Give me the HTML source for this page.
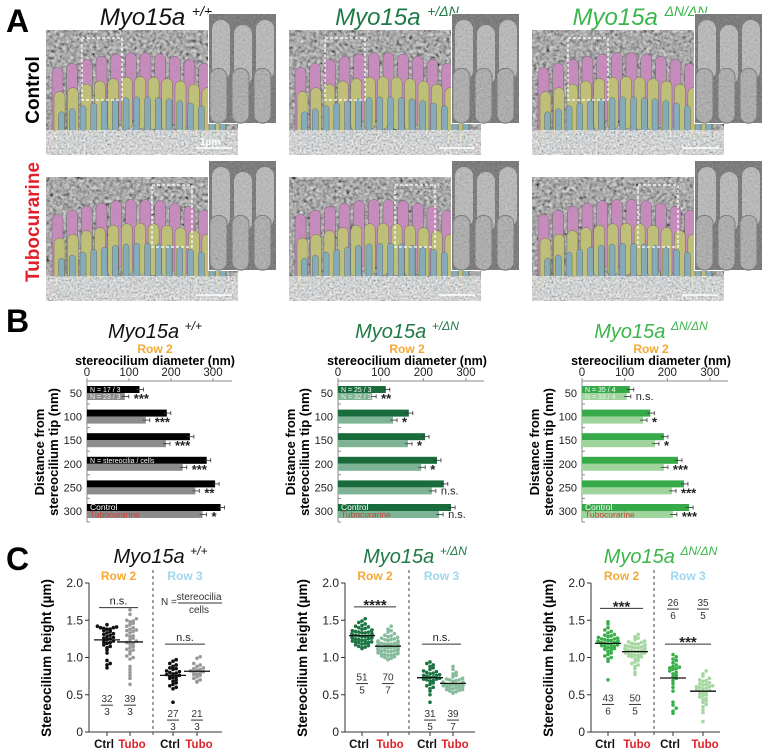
<!DOCTYPE html>
<html><head><meta charset="utf-8">
<style>
html,body{margin:0;padding:0;background:#fff;}
svg{display:block;font-family:"Liberation Sans",Arial,sans-serif;}
</style></head>
<body>
<svg id="fig" width="767" height="751" viewBox="0 0 767 751" xmlns="http://www.w3.org/2000/svg">
<defs>
<filter id="noise" x="0" y="0" width="100%" height="100%">
<feTurbulence type="fractalNoise" baseFrequency="0.3" numOctaves="3" seed="4"/>
<feColorMatrix type="matrix" values="0.6 0.6 0.6 0 -0.45  0.6 0.6 0.6 0 -0.45  0.6 0.6 0.6 0 -0.45  0 0 0 0 1"/>
</filter>
<filter id="noise2" x="0" y="0" width="100%" height="100%">
<feTurbulence type="fractalNoise" baseFrequency="0.5" numOctaves="2" seed="9"/>
<feColorMatrix type="matrix" values="0.6 0.6 0.6 0 -0.2  0.6 0.6 0.6 0 -0.2  0.6 0.6 0.6 0 -0.2  0 0 0 0 1"/>
</filter>
</defs>
<g id="panelA"></g>
<g id="panelB"></g>
<g id="panelC"></g>
</svg>
<script>
// ---- Panel B data (stereocilium diameter, nm) ----
const bDist = [50,100,150,200,250,300];
const bCtrl1 = [125,190,245,285,305,318];
const bTubo1 = [90,140,188,228,258,275];
const bSig1 = ['***','***','***','***','**','*'];
const bCtrl2 = [112,166,204,232,248,265];
const bTubo2 = [80,129,164,195,220,237];
const bSig2 = ['**','*','*','*','n.s.','n.s.'];
const bCtrl3 = [112,160,192,225,239,251];
const bTubo3 = [105,143,171,192,211,213];
const bSig3 = ['n.s.','*','*','***','***','***'];
const bTicks = [0,100,200,300];
const bN1 = ['N = 17 / 3','N = 23 / 3'];
const bN2 = ['N = 25 / 3','N = 32 / 3'];
const bN3 = ['N = 35 / 4','N = 33 / 4'];

// ---- Panel C data (stereocilium height, µm) ----
const cTicks = [0,0.5,1.0,1.5,2.0];
const c1R2Ctrl = [1.44,1.42,1.41,1.40,1.40,1.39,1.38,1.38,1.36,1.35,1.33,1.31,1.30,1.28,1.27,1.26,1.25,1.24,1.22,1.21,1.20,1.19,1.17,1.15,1.13,1.10,1.06,0.96,0.92,0.90,0.86,1.32];
const c1R2Tubo = [1.64,1.58,1.52,1.50,1.49,1.48,1.46,1.44,1.42,1.40,1.38,1.36,1.35,1.33,1.30,1.28,1.26,1.24,1.22,1.20,1.18,1.15,1.13,1.10,1.08,1.05,1.02,0.98,0.88,0.84,0.80,0.76,0.72,0.64,1.37,1.29,1.19,1.11,1.00];
const c1R3Ctrl = [0.97,0.95,0.92,0.90,0.88,0.86,0.84,0.82,0.80,0.79,0.78,0.77,0.76,0.75,0.73,0.72,0.70,0.68,0.66,0.64,0.62,0.60,0.58,0.40,0.85,0.81,0.74];
const c1R3Tubo = [1.01,0.99,0.92,0.90,0.88,0.86,0.85,0.84,0.82,0.80,0.79,0.78,0.77,0.76,0.74,0.72,0.70,0.68,0.67,0.83,0.81];
const c2R2Ctrl = [1.52,1.49,1.47,1.45,1.43,1.42,1.41,1.40,1.39,1.38,1.37,1.36,1.35,1.34,1.34,1.33,1.32,1.32,1.31,1.31,1.30,1.30,1.29,1.29,1.28,1.28,1.27,1.27,1.26,1.25,1.25,1.24,1.23,1.23,1.22,1.21,1.20,1.20,1.19,1.18,1.17,1.16,1.15,1.14,1.13,1.12,1.33,1.30,1.26,1.36,1.21];
const c2R2Tubo = [1.42,1.38,1.36,1.34,1.32,1.30,1.29,1.28,1.27,1.26,1.25,1.24,1.23,1.22,1.21,1.20,1.19,1.19,1.18,1.18,1.17,1.17,1.16,1.16,1.15,1.15,1.14,1.14,1.13,1.13,1.12,1.12,1.11,1.11,1.10,1.10,1.09,1.09,1.08,1.07,1.06,1.05,1.04,1.03,1.02,1.01,1.00,0.99,0.98,0.97,1.22,1.18,1.14,1.10,1.06,1.20,1.16,1.12,1.08,1.04,1.24,1.15,1.13,1.11,1.09,1.17,1.21,1.05,1.03,1.19];
const c2R3Ctrl = [0.94,0.92,0.90,0.88,0.86,0.84,0.82,0.80,0.79,0.78,0.77,0.76,0.75,0.74,0.73,0.72,0.71,0.70,0.69,0.68,0.66,0.64,0.62,0.60,0.58,0.55,0.50,0.40,0.81,0.76,0.71];
const c2R3Tubo = [0.88,0.84,0.80,0.78,0.76,0.74,0.72,0.71,0.70,0.69,0.68,0.67,0.66,0.66,0.65,0.65,0.64,0.64,0.63,0.63,0.62,0.62,0.61,0.60,0.59,0.58,0.57,0.56,0.55,0.54,0.53,0.52,0.70,0.67,0.65,0.63,0.61,0.59,0.57];
const c3R2Ctrl = [1.48,1.45,1.40,1.37,1.35,1.33,1.31,1.30,1.29,1.28,1.27,1.26,1.25,1.24,1.23,1.22,1.22,1.21,1.20,1.20,1.19,1.18,1.17,1.16,1.15,1.14,1.13,1.12,1.11,1.10,1.08,1.06,1.04,1.02,1.00,0.98,0.95,0.70,1.25,1.21,1.18,1.15,1.23];
const c3R2Tubo = [1.31,1.28,1.26,1.24,1.22,1.21,1.20,1.19,1.18,1.17,1.16,1.15,1.14,1.13,1.12,1.11,1.10,1.10,1.09,1.08,1.07,1.06,1.05,1.04,1.03,1.02,1.01,1.00,0.98,0.96,0.94,0.92,0.90,0.88,0.85,0.80,0.77,1.18,1.14,1.12,1.09,1.07,1.05,1.03,1.16,1.11,1.08,1.06,1.13,1.01];
const c3R3Ctrl = [1.04,1.01,0.98,0.96,0.93,0.90,0.88,0.87,0.85,0.84,0.82,0.80,0.78,0.76,0.74,0.72,0.69,0.65,0.60,0.55,0.40,0.36,0.32,0.28,0.25,0.86];
const c3R3Tubo = [0.82,0.78,0.75,0.72,0.70,0.68,0.66,0.64,0.62,0.61,0.60,0.59,0.58,0.56,0.55,0.53,0.51,0.49,0.47,0.45,0.42,0.40,0.37,0.34,0.30,0.26,0.14,0.65,0.63,0.57,0.54,0.50,0.44,0.69,0.61];

const NS='http://www.w3.org/2000/svg';
function mk(parent, tag, attrs, text){
  const e=document.createElementNS(NS,tag);
  for(const k in attrs) e.setAttribute(k,attrs[k]);
  if(text!==undefined) e.textContent=text;
  parent.appendChild(e); return e;
}
function mean(a){return a.reduce((s,v)=>s+v,0)/a.length;}

// ---------------- Panel A ----------------
const A=document.getElementById('panelA');
let t=mk(A,'text',{x:6,y:32,'font-size':32,'font-weight':'bold'},'A');


const gTitles=[['+/+','#111'],['+/ΔN','#1e7a46'],['ΔN/ΔN','#3cb54a']];
const titleX=[156,397,640];
const rowLabels=[['Control','#000',90],['Tubocurarine','#e0202a',222]];
rowLabels.forEach(r=>{
  const e=mk(A,'text',{x:0,y:0,'font-size':19,'font-weight':'bold',fill:r[1],'text-anchor':'middle',transform:`translate(39,${r[2]}) rotate(-90)`},r[0]);
  
  
});
function sem(g,x,y,w,h){
  mk(g,'rect',{x:x,y:y,width:w,height:h,fill:'#6a6a6a'});
  mk(g,'rect',{x:x,y:y,width:w,height:h,filter:'url(#noise)',opacity:0.85});
  const rows=[['#c78bbd',0.18,0.55,12],['#bfc276',0.38,0.42,13],['#83abbd',0.55,0.34,16]];
  rows.forEach((r,ri)=>{
    const n=r[3];
    for(let i=0;i<n;i++){
      const f=i/(n-1);
      const cx=x+w*(0.06+0.84*f)+ri*2;
      const arc=Math.sin(f*Math.PI);
      const top=y+h*(r[1]+0.12*(1-arc))-ri;
      const bw=ri===2?6:11;
      mk(g,'rect',{x:cx-bw/2,y:top,width:bw,height:h*r[2],rx:bw/2,fill:r[0],opacity:0.95,stroke:'#555','stroke-width':0.4});
    }
  });
  mk(g,'rect',{x:x,y:y+h*0.8,width:w,height:h*0.2,fill:'#aaa',filter:'url(#noise2)',opacity:0.85});
}
function inset(g,x,y,w,h){
  mk(g,'rect',{x:x-1,y:y-1,width:w+2,height:h+2,fill:'#fff'});
  mk(g,'rect',{x:x,y:y,width:w,height:h,fill:'#555'});
  for(let i=0;i<3;i++){
    mk(g,'rect',{x:x+3+i*22,y:y+6+(i%2)*5,width:18,height:h*0.55,rx:9,fill:'#aaa'});
    mk(g,'rect',{x:x+1+i*22,y:y+h*0.5,width:17,height:h*0.5,rx:8,fill:'#9a9a9a',stroke:'#555'});
  }
  mk(g,'rect',{x:x,y:y,width:w,height:h,filter:'url(#noise2)',opacity:0.3});
}
for(let c=0;c<3;c++){
  const ox=c*243;
  const gt=mk(A,'text',{x:titleX[c],y:25,'font-size':24,'font-style':'italic','text-anchor':'middle',fill:gTitles[c][1]});
  
  
  mk(gt,'tspan',{},'Myo15a ');
  mk(gt,'tspan',{'font-size':14,dy:-9},gTitles[c][0]);
  for(let r=0;r<2;r++){
    const g=mk(A,'g',{});
    
    
    const y0=r===0?30:177;
    sem(g,46+ox,y0,192,r===0?125:124);
    mk(g,'rect',{x:82+ox+(r?70:0),y:y0+8,width:40,height:62,fill:'none',stroke:'#fff','stroke-width':1.3,'stroke-dasharray':'3,2'});
    mk(g,'line',{x1:196+ox,y1:y0+118,x2:232+ox,y2:y0+118,stroke:'#fff','stroke-width':1.5});
    inset(g,209+ox,r===0?14:161,67,109);
  }
}
t=mk(A,'text',{x:200,y:145,'font-size':10,'font-weight':'bold',fill:'#fff'},'1µm');



// ---------------- Panel B ----------------
const B=document.getElementById('panelB');
t=mk(B,'text',{x:6,y:332,'font-size':32,'font-weight':'bold'},'B');


const bPanels=[
 {x0:87,x300:213,end:232,ctrl:bCtrl1,tubo:bTubo1,sig:bSig1,cC:'#000',cT:'#8c8c8c',n:bN1,tt:gTitles[0],showNote:true},
 {x0:338,x300:466,end:484,ctrl:bCtrl2,tubo:bTubo2,sig:bSig2,cC:'#1a6b3c',cT:'#7fb395',n:bN2,tt:gTitles[1]},
 {x0:582,x300:710,end:728,ctrl:bCtrl3,tubo:bTubo3,sig:bSig3,cC:'#36a948',cT:'#9fd59c',n:bN3,tt:gTitles[2]}
];
const byTop=393, byStep=23.6;
bPanels.forEach((p,pi)=>{
  const g=mk(B,'g',{});
  
  
  const sx=v=>p.x0+(v/300)*(p.x300-p.x0);
  const sy=d=>byTop+(bDist.indexOf(d))*byStep;
  const cx=(p.x0+p.x300)/2+5;
  const tt=mk(g,'text',{x:cx,y:338,'font-size':20,'font-style':'italic','text-anchor':'middle',fill:p.tt[1]});
  
  
  mk(tt,'tspan',{},'Myo15a ');
  mk(tt,'tspan',{'font-size':12,dy:-8},p.tt[0]);
  mk(g,'text',{x:cx,y:353,'font-size':12,'font-weight':'bold',fill:'#f5a833','text-anchor':'middle'},'Row 2');
  const xt=mk(g,'text',{x:cx,y:365,'font-size':12.5,'font-weight':'bold','text-anchor':'middle'},'stereocilium diameter (nm)');
  
  
  mk(g,'line',{x1:p.x0,y1:381,x2:p.end,y2:381,stroke:'#888','stroke-width':1});
  bTicks.forEach(v=>{
    mk(g,'line',{x1:sx(v),y1:381,x2:sx(v),y2:378,stroke:'#888'});
    const tl=mk(g,'text',{x:sx(v),y:376,'font-size':11.5,'text-anchor':'middle',fill:'#222'},v);
    
    
  });
  mk(g,'line',{x1:p.x0,y1:381,x2:p.x0,y2:522,stroke:'#888'});
  const yt=mk(g,'text',{x:0,y:0,'font-size':13,'font-weight':'bold','text-anchor':'middle',transform:`translate(${p.x0-43},452) rotate(-90)`});
  
  
  mk(yt,'tspan',{x:0,dy:0},'Distance from');
  mk(yt,'tspan',{x:0,dy:14},'stereocilium tip (nm)');
  bDist.forEach((d,i)=>{
    const y=sy(d);
    const tl=mk(g,'text',{x:p.x0-5,y:y+4,'font-size':11,'text-anchor':'end',fill:'#222'},d);
    
    
    mk(g,'line',{x1:p.x0,y1:y+11,x2:p.x0+3,y2:y+11,stroke:'#888'});
    const bc=mk(g,'rect',{x:p.x0,y:y-7,width:sx(p.ctrl[i])-p.x0,height:7,fill:p.cC});
    
    
    const bt=mk(g,'rect',{x:p.x0,y:y,width:sx(p.tubo[i])-p.x0,height:7,fill:p.cT});
    
    
    [[p.ctrl[i],y-3.5],[p.tubo[i],y+3.5]].forEach(e=>{
      const x=sx(e[0]);
      mk(g,'line',{x1:x-3,y1:e[1],x2:x+4,y2:e[1],stroke:'#333','stroke-width':0.8});
      mk(g,'line',{x1:x+4,y1:e[1]-2,x2:x+4,y2:e[1]+2,stroke:'#333','stroke-width':0.8});
    });
    const ns=p.sig[i]==='n.s.';
    const st=mk(g,'text',{x:sx(p.tubo[i])+9,y:y+(ns?7:10),'font-size':ns?11:13,'font-weight':ns?'normal':'bold',fill:'#222'},p.sig[i]);
    
    
  });
  mk(g,'text',{x:p.x0+3,y:byTop-1,'font-size':7,fill:'#fff'},p.n[0]);
  mk(g,'text',{x:p.x0+3,y:byTop+6,'font-size':7,fill:'#eee'},p.n[1]);
  mk(g,'text',{x:p.x0+3,y:sy(300)-1,'font-size':8.5,fill:'#fff'},'Control');
  mk(g,'text',{x:p.x0+3,y:sy(300)+6.5,'font-size':8.5,fill:'#c8413a'},'Tubocurarine');
  if(p.showNote) mk(g,'text',{x:p.x0+3,y:sy(200)-1,'font-size':7,fill:'#fff'},'N = stereocilia / cells');
});

// ---------------- Panel C ----------------
const C=document.getElementById('panelC');
t=mk(C,'text',{x:6,y:570,'font-size':32,'font-weight':'bold'},'C');


const cy0=732, cy2=583;
const sy=v=>cy0-(v/2)*(cy0-cy2);
const cPanels=[
 {ax:89,end:222,xs:[107,130,173,197],dash:153,data:[c1R2Ctrl,c1R2Tubo,c1R3Ctrl,c1R3Tubo],cols:['#111','#999','#111','#999'],tt:gTitles[0],
  sig:[['n.s.',1.67,0],['n.s.',1.18,2]],nf:[['32','3',0.36],['39','3',0.36],['27','3',0.16],['21','3',0.16]],note:true},
 {ax:345,end:475,xs:[362,388,430,453],dash:409,data:[c2R2Ctrl,c2R2Tubo,c2R3Ctrl,c2R3Tubo],cols:['#1d7543','#86bb9c','#1d7543','#86bb9c'],tt:gTitles[1],
  sig:[['****',1.68,0],['n.s.',1.18,2]],nf:[['51','5',0.65],['70','7',0.65],['31','5',0.16],['39','7',0.16]]},
 {ax:591,end:720,xs:[608,635,673,703],dash:654,data:[c3R2Ctrl,c3R2Tubo,c3R3Ctrl,c3R3Tubo],cols:['#38b04a','#a6d7a1','#38b04a','#a6d7a1'],tt:gTitles[2],
  sig:[['***',1.66,0],['***',1.18,2]],nf:[['43','6',0.37],['50','5',0.37],['26','6',1.65],['35','5',1.65]]}
];
cPanels.forEach((p,pi)=>{
  const g=mk(C,'g',{});
  
  
  const cx=(p.ax+p.end)/2+5;
  const tt=mk(g,'text',{x:cx,y:563,'font-size':20,'font-style':'italic','text-anchor':'middle',fill:p.tt[1]});
  
  
  mk(tt,'tspan',{},'Myo15a ');
  mk(tt,'tspan',{'font-size':12,dy:-8},p.tt[0]);
  mk(g,'text',{x:(p.xs[0]+p.xs[1])/2,y:580,'font-size':12,'font-weight':'bold',fill:'#f5a833','text-anchor':'middle'},'Row 2');
  mk(g,'text',{x:(p.xs[2]+p.xs[3])/2,y:580,'font-size':12,'font-weight':'bold',fill:'#9ed6ee','text-anchor':'middle'},'Row 3');
  mk(g,'line',{x1:p.ax,y1:cy2,x2:p.ax,y2:cy0,stroke:'#333'});
  mk(g,'line',{x1:p.ax,y1:cy0,x2:p.end,y2:cy0,stroke:'#333'});
  mk(g,'line',{x1:p.dash,y1:570,x2:p.dash,y2:737,stroke:'#444','stroke-dasharray':'3,3'});
  cTicks.forEach(v=>{
    mk(g,'line',{x1:p.ax-4,y1:sy(v),x2:p.ax,y2:sy(v),stroke:'#333'});
    const tl=mk(g,'text',{x:p.ax-6,y:sy(v)+4,'font-size':12,'text-anchor':'end',fill:'#222'},v===0?'0':v.toFixed(1));
    
    
  });
  const yt=mk(g,'text',{x:0,y:0,'font-size':13.5,'font-weight':'bold','text-anchor':'middle',transform:`translate(${p.ax-38},658) rotate(-90)`},'Stereocilium height (µm)');
  
  
  ['Ctrl','Tubo','Ctrl','Tubo'].forEach((l,i)=>{
    mk(g,'line',{x1:p.xs[i],y1:cy0,x2:p.xs[i],y2:cy0+4,stroke:'#333'});
    const xl=mk(g,'text',{x:p.xs[i]+(l==='Ctrl'?-3:2),y:748,'font-size':11.5,'font-weight':'bold','text-anchor':'middle',fill:l==='Tubo'?'#e0202a':'#111'},l);
    
    
  });
  p.data.forEach((arr,gi)=>{
    const dots=mk(g,'g',{});
    
    
    const sorted=arr.slice().sort((a,b)=>a-b);
    let prevBin=null,k=0;
    sorted.forEach(v=>{
      const bin=Math.round(v*20);
      k=(bin===prevBin)?k+1:0; prevBin=bin;
      const off=(k%2?1:-1)*Math.ceil(k/2)*3.2;
      mk(dots,'circle',{cx:p.xs[gi]+Math.max(-10,Math.min(10,off)),cy:sy(v),r:1.8,fill:p.cols[gi]});
    });
    const m=mean(arr);
    const ml=mk(g,'line',{x1:p.xs[gi]-13,y1:sy(m),x2:p.xs[gi]+13,y2:sy(m),stroke:'#111','stroke-width':1.3});
    
    
    const nf=p.nf[gi];
    mk(g,'text',{x:p.xs[gi],y:sy(nf[2])-3,'font-size':10,'text-anchor':'middle',fill:'#333'},nf[0]);
    mk(g,'line',{x1:p.xs[gi]-6,y1:sy(nf[2]),x2:p.xs[gi]+6,y2:sy(nf[2]),stroke:'#333'});
    mk(g,'text',{x:p.xs[gi],y:sy(nf[2])+10,'font-size':10,'text-anchor':'middle',fill:'#333'},nf[1]);
  });
  p.sig.forEach(s=>{
    const x1=p.xs[s[2]]-8, x2=p.xs[s[2]+1]+8;
    mk(g,'line',{x1:x1,y1:sy(s[1]),x2:x2,y2:sy(s[1]),stroke:'#333'});
    const ns=s[0]==='n.s.';
    const st=mk(g,'text',{x:(x1+x2)/2,y:sy(s[1])-(ns?3:-3),'font-size':ns?11:15,'font-weight':ns?'normal':'bold','text-anchor':'middle',fill:'#222'},s[0]);
    
    
  });
  if(p.note){
    mk(g,'text',{x:161,y:605,'font-size':10,fill:'#333'},'N =');
    mk(g,'text',{x:199,y:600,'font-size':10,fill:'#333','text-anchor':'middle'},'stereocilia');
    mk(g,'line',{x1:178,y1:603,x2:222,y2:603,stroke:'#333'});
    mk(g,'text',{x:199,y:613,'font-size':10,fill:'#333','text-anchor':'middle'},'cells');
  }
});
</script>
</body></html>
